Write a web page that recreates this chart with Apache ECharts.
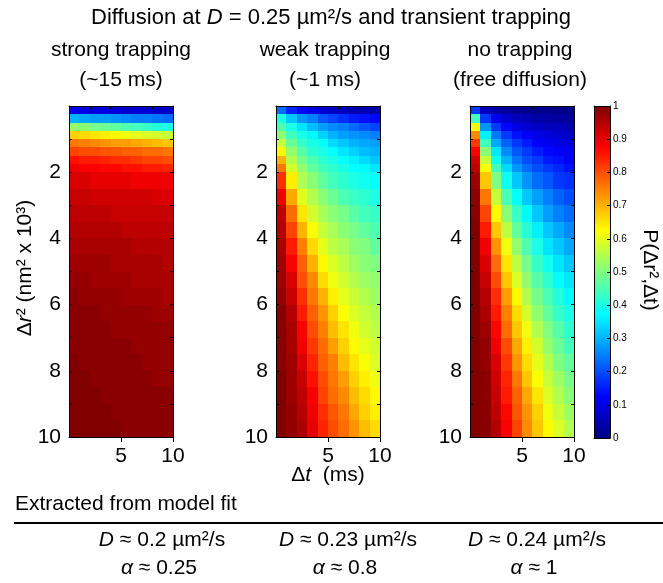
<!DOCTYPE html>
<html>
<head>
<meta charset="UTF-8">
<title>Diffusion and transient trapping</title>
<script type="text/javascript" src="https://cdn.jsdelivr.net/npm/echarts@6/dist/echarts.min.js"></script>
<style>
  html, body { margin: 0; padding: 0; background: #fff; }
</style>
</head>
<body>
<div id="main" style="width: 663px; height: 583px;"></div>
<script type="text/javascript">
// cell edges: Δt in ms, Δr² in nm² x 10³
var tEdges = [0, 1, 2, 3, 4, 5, 6, 7, 8, 9, 10];
var r2Edges = [0, 0.25, 0.5, 0.75, 1, 1.25, 1.5, 1.75, 2, 2.5, 3, 3.5, 4, 4.5, 5, 5.5, 6, 6.5, 7, 7.5, 8, 8.5, 9, 9.5, 10];

// P(Δr², Δt), one row per Δr² cell, one value per Δt cell
var strongP = [
  [0.10,0.10,0.09,0.09,0.09,0.08,0.08,0.08,0.07,0.07],
  [0.30,0.29,0.28,0.28,0.27,0.26,0.25,0.25,0.24,0.23],
  [0.52,0.51,0.49,0.48,0.47,0.45,0.44,0.43,0.41,0.40],
  [0.67,0.66,0.65,0.64,0.63,0.61,0.60,0.59,0.58,0.57],
  [0.76,0.75,0.74,0.73,0.72,0.72,0.71,0.70,0.69,0.68],
  [0.81,0.80,0.80,0.79,0.79,0.78,0.78,0.77,0.77,0.76],
  [0.86,0.85,0.85,0.84,0.83,0.83,0.82,0.81,0.81,0.80],
  [0.89,0.88,0.88,0.87,0.87,0.86,0.86,0.85,0.85,0.84],
  [0.91,0.91,0.90,0.90,0.90,0.90,0.89,0.89,0.89,0.89],
  [0.93,0.93,0.92,0.92,0.92,0.92,0.92,0.92,0.91,0.91],
  [0.94,0.94,0.94,0.94,0.93,0.93,0.93,0.93,0.93,0.93],
  [0.95,0.95,0.95,0.95,0.95,0.94,0.94,0.94,0.94,0.94],
  [0.96,0.96,0.96,0.96,0.96,0.96,0.95,0.95,0.95,0.95],
  [0.97,0.97,0.97,0.97,0.96,0.96,0.96,0.96,0.96,0.95],
  [0.98,0.98,0.97,0.97,0.97,0.97,0.96,0.96,0.96,0.96],
  [0.99,0.98,0.98,0.98,0.98,0.97,0.97,0.97,0.97,0.96],
  [0.99,0.99,0.99,0.98,0.98,0.98,0.98,0.98,0.97,0.97],
  [0.99,0.99,0.99,0.99,0.98,0.98,0.98,0.98,0.98,0.98],
  [0.99,0.99,0.99,0.99,0.99,0.99,0.98,0.98,0.98,0.98],
  [1.00,0.99,0.99,0.99,0.99,0.99,0.99,0.98,0.98,0.98],
  [1.00,1.00,0.99,0.99,0.99,0.99,0.99,0.99,0.98,0.98],
  [1.00,1.00,1.00,0.99,0.99,0.99,0.99,0.99,0.99,0.99],
  [1.00,1.00,1.00,1.00,0.99,0.99,0.99,0.99,0.99,0.99],
  [1.00,1.00,1.00,1.00,1.00,0.99,0.99,0.99,0.99,0.99]
];
var weakP = [
  [0.23,0.16,0.13,0.10,0.08,0.07,0.06,0.05,0.05,0.04],
  [0.40,0.32,0.27,0.25,0.21,0.19,0.17,0.15,0.14,0.13],
  [0.45,0.40,0.35,0.31,0.28,0.26,0.25,0.23,0.21,0.19],
  [0.51,0.44,0.40,0.37,0.33,0.30,0.28,0.27,0.26,0.25],
  [0.57,0.48,0.43,0.40,0.38,0.34,0.32,0.30,0.29,0.28],
  [0.63,0.52,0.46,0.42,0.40,0.38,0.35,0.33,0.31,0.30],
  [0.70,0.55,0.49,0.45,0.42,0.40,0.38,0.36,0.34,0.32],
  [0.76,0.58,0.52,0.47,0.44,0.42,0.40,0.38,0.37,0.35],
  [0.83,0.64,0.55,0.51,0.47,0.44,0.42,0.40,0.39,0.38],
  [0.89,0.71,0.60,0.55,0.51,0.48,0.45,0.43,0.42,0.40],
  [0.94,0.77,0.65,0.58,0.54,0.51,0.49,0.46,0.44,0.43],
  [0.95,0.81,0.70,0.62,0.57,0.54,0.51,0.49,0.47,0.45],
  [0.96,0.85,0.75,0.66,0.60,0.56,0.54,0.51,0.50,0.47],
  [0.97,0.88,0.78,0.70,0.63,0.59,0.56,0.53,0.51,0.50],
  [0.97,0.91,0.80,0.74,0.66,0.61,0.58,0.55,0.53,0.52],
  [0.98,0.93,0.83,0.76,0.70,0.64,0.60,0.57,0.55,0.53],
  [0.99,0.95,0.85,0.78,0.73,0.67,0.62,0.59,0.57,0.55],
  [0.99,0.96,0.88,0.80,0.75,0.69,0.65,0.61,0.58,0.56],
  [0.99,0.96,0.89,0.82,0.77,0.72,0.67,0.63,0.60,0.58],
  [0.99,0.97,0.91,0.84,0.78,0.75,0.69,0.65,0.62,0.59],
  [1.00,0.97,0.93,0.86,0.80,0.76,0.72,0.67,0.64,0.61],
  [1.00,0.97,0.94,0.88,0.81,0.77,0.74,0.69,0.66,0.63],
  [1.00,0.98,0.95,0.89,0.83,0.79,0.76,0.71,0.67,0.64],
  [1.00,0.98,0.96,0.90,0.84,0.80,0.77,0.73,0.69,0.66]
];
var freeP = [
  [0.18,0.06,0.04,0.03,0.02,0.02,0.01,0.01,0.01,0.01],
  [0.44,0.18,0.11,0.08,0.06,0.05,0.04,0.04,0.03,0.03],
  [0.62,0.27,0.18,0.13,0.10,0.08,0.07,0.06,0.06,0.05],
  [0.74,0.36,0.24,0.18,0.14,0.12,0.10,0.09,0.08,0.07],
  [0.82,0.44,0.29,0.22,0.18,0.15,0.12,0.11,0.10,0.09],
  [0.88,0.51,0.35,0.26,0.21,0.18,0.15,0.13,0.12,0.11],
  [0.92,0.57,0.39,0.30,0.24,0.20,0.18,0.15,0.14,0.12],
  [0.94,0.62,0.44,0.34,0.27,0.23,0.20,0.18,0.16,0.14],
  [0.97,0.68,0.50,0.39,0.32,0.27,0.23,0.21,0.18,0.17],
  [0.99,0.76,0.57,0.45,0.38,0.32,0.28,0.25,0.22,0.20],
  [0.99,0.81,0.63,0.51,0.43,0.37,0.32,0.28,0.25,0.23],
  [1.00,0.85,0.68,0.56,0.47,0.41,0.36,0.32,0.29,0.26],
  [1.00,0.89,0.73,0.61,0.52,0.45,0.40,0.35,0.32,0.29],
  [1.00,0.91,0.77,0.65,0.56,0.49,0.43,0.39,0.35,0.32],
  [1.00,0.93,0.80,0.68,0.59,0.52,0.46,0.42,0.38,0.35],
  [1.00,0.95,0.83,0.72,0.63,0.55,0.49,0.45,0.41,0.37],
  [1.00,0.96,0.85,0.75,0.66,0.58,0.52,0.47,0.43,0.40],
  [1.00,0.97,0.87,0.77,0.68,0.61,0.55,0.50,0.46,0.42],
  [1.00,0.98,0.89,0.80,0.71,0.64,0.58,0.52,0.48,0.44],
  [1.00,0.98,0.91,0.82,0.73,0.66,0.60,0.55,0.50,0.47],
  [1.00,0.99,0.92,0.84,0.76,0.68,0.62,0.57,0.53,0.49],
  [1.00,0.99,0.93,0.85,0.78,0.71,0.65,0.59,0.55,0.51],
  [1.00,0.99,0.94,0.87,0.79,0.73,0.67,0.61,0.57,0.53],
  [1.00,0.99,0.95,0.88,0.81,0.74,0.68,0.63,0.59,0.55]
];

// tick labels and texts
var xTickValues = [5, 10];
var yLabelValues = [2, 4, 6, 8, 10];
var panelNames = ['strong trapping', 'weak trapping', 'no trapping'];
var panelNotes = ['(~15 ms)', '(~1 ms)', '(free diffusion)'];
var fitD = ['0.2', '0.23', '0.24'];
var fitAlpha = ['0.25', '0.8', '1'];

// jet colormap
var jetColors = ['#000080', '#0000ff', '#0080ff', '#00ffff', '#80ff80', '#ffff00', '#ff8000', '#ff0000', '#800000'];

var font = "'Liberation Sans', Arial, Helvetica, sans-serif";
var black = '#000';

function cells(rows) {
    var out = [];
    rows.forEach(function (row, i) {
        row.forEach(function (v, j) {
            out.push([tEdges[j], r2Edges[i], v, tEdges[j + 1], r2Edges[i + 1]]);
        });
    });
    return out;
}

function renderCell(params, api) {
    var p0 = api.coord([api.value(0), api.value(1)]);
    var p1 = api.coord([api.value(3), api.value(4)]);
    var x0 = Math.round(Math.min(p0[0], p1[0])), x1 = Math.round(Math.max(p0[0], p1[0]));
    var y0 = Math.round(Math.min(p0[1], p1[1])), y1 = Math.round(Math.max(p0[1], p1[1]));
    return {
        type: 'rect',
        shape: { x: x0, y: y0, width: x1 - x0, height: y1 - y0 },
        style: { fill: api.visual('color') }
    };
}

function text(str, x, y, opt) {
    opt = opt || {};
    var size = opt.size || 21;
    return {
        type: 'text',
        x: x, y: y,
        rotation: opt.rotation || 0,
        z: 10,
        style: {
            text: str,
            align: opt.align || 'center',
            verticalAlign: 'middle',
            fontSize: size,
            fontFamily: font,
            fill: black,
            rich: { i: { fontStyle: 'italic', fontSize: size, fontFamily: font, fill: black } }
        }
    };
}

var panels = [
    { left: 69, values: strongP },
    { left: 276, values: weakP },
    { left: 470, values: freeP }
];
var panelTop = 106, panelW = 104, panelH = 331;

var grids = [], xAxes = [], yAxes = [], series = [];
var axisLine = { onZero: false, lineStyle: { color: black, width: 1 } };

panels.forEach(function (p, k) {
    grids.push({ left: p.left, top: panelTop, width: panelW, height: panelH });
    xAxes.push({
        gridIndex: k, type: 'value', position: 'bottom', min: 0, max: 10, interval: 5, z: 5,
        axisLine: axisLine,
        axisTick: { length: 5, customValues: xTickValues, lineStyle: { color: black } },
        axisLabel: { customValues: xTickValues, fontSize: 21, fontFamily: font, color: black, margin: 9 },
        splitLine: { show: false }
    });
    xAxes.push({
        gridIndex: k, type: 'value', position: 'top', min: 0, max: 10, interval: 2, z: 5,
        axisLine: axisLine,
        axisTick: { inside: true, length: 3, lineStyle: { color: black } },
        axisLabel: { show: false },
        splitLine: { show: false }
    });
    yAxes.push({
        gridIndex: k, type: 'value', position: 'left', inverse: true, min: 0, max: 10, interval: 1, z: 5,
        axisLine: axisLine,
        axisTick: { inside: true, length: 3, lineStyle: { color: black } },
        axisLabel: { customValues: yLabelValues, fontSize: 21, fontFamily: font, color: black, margin: 8 },
        splitLine: { show: false }
    });
    yAxes.push({
        gridIndex: k, type: 'value', position: 'right', inverse: true, min: 0, max: 10, interval: 1, z: 5,
        axisLine: axisLine,
        axisTick: { inside: true, length: 3, lineStyle: { color: black } },
        axisLabel: { show: false },
        splitLine: { show: false }
    });
    series.push({
        type: 'custom',
        xAxisIndex: 2 * k,
        yAxisIndex: 2 * k,
        silent: true,
        renderItem: renderCell,
        data: cells(p.values)
    });
});

// colour bar frame and ticks
var cb = { left: 594, top: 106, width: 16, height: 332 };
grids.push({ left: cb.left, top: cb.top, width: cb.width, height: cb.height });
xAxes.push({ gridIndex: 3, type: 'value', position: 'bottom', min: 0, max: 1, z: 5, axisLine: axisLine,
    axisTick: { show: false }, axisLabel: { show: false }, splitLine: { show: false } });
xAxes.push({ gridIndex: 3, type: 'value', position: 'top', min: 0, max: 1, z: 5, axisLine: axisLine,
    axisTick: { show: false }, axisLabel: { show: false }, splitLine: { show: false } });
yAxes.push({ gridIndex: 3, type: 'value', position: 'left', min: 0, max: 1, z: 5, axisLine: axisLine,
    axisTick: { show: false }, axisLabel: { show: false }, splitLine: { show: false } });
yAxes.push({ gridIndex: 3, type: 'value', position: 'right', min: 0, max: 1, interval: 0.1, z: 5,
    axisLine: axisLine,
    axisTick: { inside: true, length: 3, lineStyle: { color: black } },
    axisLabel: { fontSize: 10, fontFamily: font, color: black, margin: 3,
        formatter: function (v) { return String(+v.toFixed(1)); } },
    splitLine: { show: false } });

var gradStops = jetColors.map(function (c, k) {
    return { offset: k / (jetColors.length - 1), color: c };
});

var elements = [
    {
        type: 'rect', z: 1,
        shape: { x: cb.left, y: cb.top, width: cb.width, height: cb.height },
        style: { fill: new echarts.graphic.LinearGradient(0, 1, 0, 0, gradStops) }
    },
    text('Diffusion at {i|D} = 0.25 µm²/s and transient trapping', 331, 18, { size: 22 }),
    text('Δ{i|t}  (ms)', 328, 475),
    text('Δ{i|r}² (nm² x 10³)', 25, 268, { rotation: Math.PI / 2 }),
    text('P(Δr²,Δt)', 650, 270, { rotation: -Math.PI / 2 }),
    text('Extracted from model fit', 15, 504, { align: 'left' }),
    { type: 'line', z: 10, shape: { x1: 14, y1: 523, x2: 663, y2: 523 }, style: { stroke: black, lineWidth: 2 } }
];
var panelCenters = [121, 325, 520];
var fitCenters = [162, 348, 537];
panelNames.forEach(function (name, k) {
    elements.push(text(name, panelCenters[k], 50));
    elements.push(text(panelNotes[k], panelCenters[k], 80));
    elements.push(text('{i|D} ≈ ' + fitD[k] + ' µm²/s', fitCenters[k], 540));
    elements.push(text('{i|α} ≈ ' + fitAlpha[k], fitCenters[k] - 3, 568));
});

var myChart = echarts.init(document.getElementById('main'));
myChart.setOption({
    animation: false,
    backgroundColor: '#fff',
    grid: grids,
    xAxis: xAxes,
    yAxis: yAxes,
    visualMap: {
        show: false,
        type: 'continuous',
        min: 0,
        max: 1,
        dimension: 2,
        seriesIndex: [0, 1, 2],
        inRange: { color: jetColors }
    },
    graphic: { elements: elements },
    series: series
});
</script>
</body>
</html>
